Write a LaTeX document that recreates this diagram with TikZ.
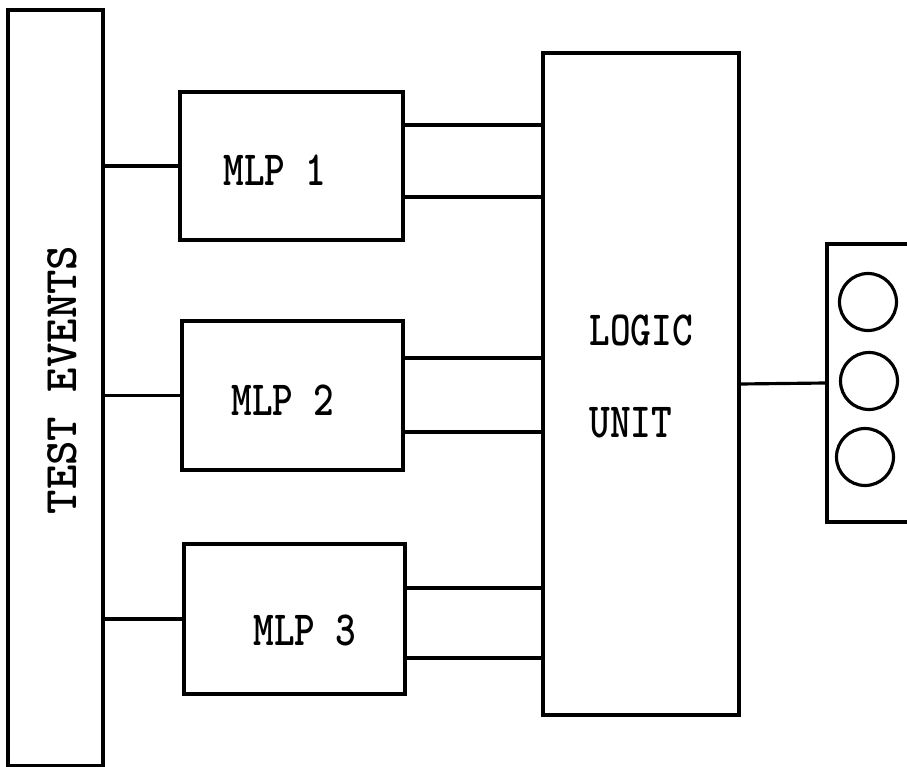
\documentclass[tikz,border=0pt]{standalone}
\usepackage{fontspec}
\usepackage{graphicx}

\newcommand{\narrowtext}[1]{\scalebox{0.8}[1]{#1}}

\begin{document}
\begin{tikzpicture}[x=0.02cm, y=-0.02cm, line width=1.8pt,
    box/.style={draw, rectangle, inner sep=0pt},
    lamp/.style={draw, circle, minimum size=1.14cm, inner sep=0pt, line width=1.8pt},
    lbl/.style={font=\fontsize{28}{30}\selectfont\ttfamily\bfseries, inner sep=0pt}]

    \useasboundingbox (0,0) rectangle (907,767);

    % Boxes
    \node[box, minimum width=1.9cm,  minimum height=15.12cm] (events) at (55.5,388) {};
    \node[box, minimum width=4.46cm, minimum height=2.96cm]  (mlp1)   at (291.5,166) {};
    \node[box, minimum width=4.42cm, minimum height=2.98cm]  (mlp2)   at (292.5,395.5) {};
    \node[box, minimum width=4.42cm, minimum height=3.0cm]   (mlp3)   at (294.5,619) {};
    \node[box, minimum width=3.92cm, minimum height=13.24cm] (logic)  at (641,384) {};
    \node[box, minimum width=2.66cm, minimum height=5.56cm]  (lights) at (893.5,383) {};

    % Labels
    \node[lbl, font=\fontsize{26.5}{28}\selectfont\ttfamily\bfseries, rotate=90] (eventstxt) at (62,380) {TEST EVENTS};
    \node[lbl] (mlp1txt) at (275,170) {\narrowtext{MLP 1}};
    \node[lbl] (mlp2txt) at (283,400) {\narrowtext{MLP 2}};
    \node[lbl] (mlp3txt) at (305,630) {\narrowtext{MLP 3}};
    \node[lbl, anchor=west] (logictxt) at (588,330) {\narrowtext{LOGIC}};
    \node[lbl, anchor=west] (unittxt)  at (588,423) {\narrowtext{UNIT}};

    % Lamps
    \node[lamp] (lamp1) at (868,302) {};
    \node[lamp] (lamp2) at (869,381) {};
    \node[lamp] (lamp3) at (865,457) {};

    % Inputs
    \foreach \m in {mlp1,mlp2,mlp3}
        \draw (events.east |- \m.west) -- (\m.west);

    % Outputs to the logic unit
    \foreach \m/\ya/\yb in {mlp1/125/197, mlp2/358/432, mlp3/588/658} {
        \draw (\m.east |- 0,\ya) -- (logic.west |- 0,\ya);
        \draw (\m.east |- 0,\yb) -- (logic.west |- 0,\yb);
    }

    \draw (logic.east) -- (lights.west);

\end{tikzpicture}
\end{document}
